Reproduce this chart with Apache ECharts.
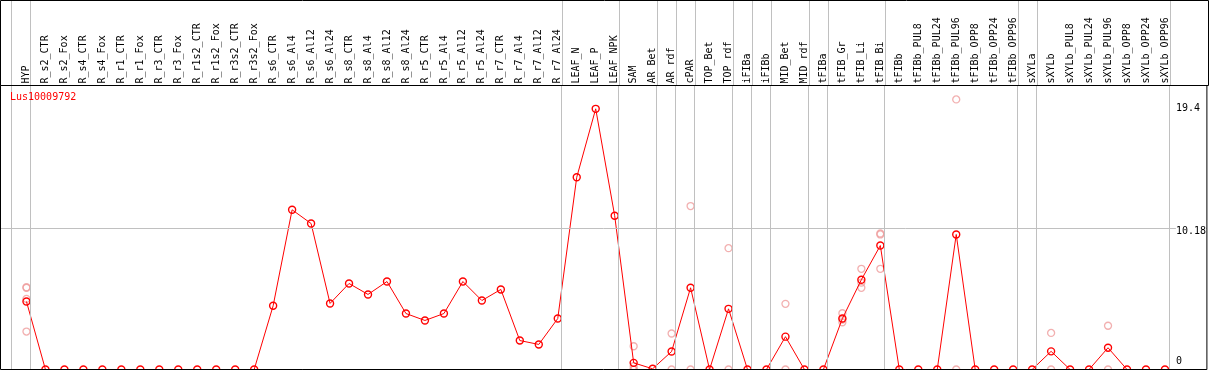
<!DOCTYPE html>
<html><head><meta charset="utf-8">
<script src="https://cdn.jsdelivr.net/npm/echarts@6/dist/echarts.min.js"></script>
<style>html,body{margin:0;padding:0;background:#fff}#c{width:1209px;height:370px}</style>
</head><body><div id="c"></div><script>
const geneName = 'Lus10009792';
const categories = ['HYP','R_s2_CTR','R_s2_Fox','R_s4_CTR','R_s4_Fox','R_r1_CTR','R_r1_Fox','R_r3_CTR','R_r3_Fox',
  'R_r1s2_CTR','R_r1s2_Fox','R_r3s2_CTR','R_r3s2_Fox','R_s6_CTR','R_s6_Al4','R_s6_Al12','R_s6_Al24',
  'R_s8_CTR','R_s8_Al4','R_s8_Al12','R_s8_Al24','R_r5_CTR','R_r5_Al4','R_r5_Al12','R_r5_Al24',
  'R_r7_CTR','R_r7_Al4','R_r7_Al12','R_r7_Al24','LEAF_N','LEAF_P','LEAF_NPK','SAM','AR_Bet','AR_rdf',
  'cPAR','TOP_Bet','TOP_rdf','iFIBa','iFIBb','MID_Bet','MID_rdf','tFIBa','tFIB_Gr','tFIB_Li','tFIB_Bi',
  'tFIBb','tFIBb_PUL8','tFIBb_PUL24','tFIBb_PUL96','tFIBb_OPP8','tFIBb_OPP24','tFIBb_OPP96',
  'sXYLa','sXYLb','sXYLb_PUL8','sXYLb_PUL24','sXYLb_PUL96','sXYLb_OPP8','sXYLb_OPP24','sXYLb_OPP96'];
const means = [4.91, 0,0,0,0,0,0,0,0,0,0,0,0,
  4.60, 11.53, 10.54, 4.77, 6.21, 5.42, 6.35, 4.04, 3.54, 4.04, 6.35, 4.98, 5.78, 2.09, 1.81, 3.68,
  13.88, 18.82, 11.10, 0.48, 0.05, 1.30, 5.90, 0, 4.38, 0, 0, 2.37, 0, 0, 3.68, 6.48, 8.95,
  0, 0, 0, 9.75, 0, 0, 0, 0, 1.31, 0, 0, 1.57, 0, 0, 0];
const replicates = [[5.94, 5.90, 5.10, 2.74], [],[],[],[],[],[],[],[],[],[],[],[],
  [],[],[],[],[],[],[],[],[],[],[],[],[],[],[],[],
  [],[],[], [1.68, 0.24, 0, 0], [], [2.60, 0], [11.80, 0], [], [8.76, 0], [], [], [4.74, 0], [], [],
  [4.06, 3.61, 3.41], [7.27, 6.27, 5.90], [9.82, 9.75, 7.27],
  [],[],[], [19.50, 0], [],[],[], [], [2.64, 0], [], [], [3.16, 0], [],[],[]];
const groupEnds = [-1, 0, 28, 31, 33, 34, 35, 37, 38, 39, 41, 42, 45, 52, 53, 60];
const yTickValues = [0, 10.18, 19.4];
const yGridValues = [10.18];

const FONT = 'DejaVu Sans Mono';
const X_MIN = -26 / 19, X_MAX = 1182 / 19;
const Y_MAX = 20.504;
const SEP_OFFSET = 4 / 19;

const repData = [];
replicates.forEach((arr, i) => arr.forEach(v => repData.push([i, v])));
const sepLines = groupEnds.map(i => ({ xAxis: i + SEP_OFFSET }));
const markLineBase = { silent: true, symbol: 'none', animation: false, label: { show: false },
  lineStyle: { color: '#c0c0c0', width: 1, type: 'solid' } };
const labelShift = { '0': 'z', '10.18': 'm', '19.4': 't' };

const chart = echarts.init(document.getElementById('c'), null, { renderer: 'canvas' });
chart.setOption({
  animation: false,
  backgroundColor: '#fff',
  title: { text: geneName, left: 5, top: 87, textStyle: { color: '#ff0000', fontFamily: FONT, fontSize: 10, fontWeight: 'normal' } },
  grid: [
    { left: 0.5, right: 0.5, top: 85.5, bottom: 0.5, show: true, borderColor: '#000', borderWidth: 1, z: 20, backgroundColor: 'transparent' },
    { left: 0.5, right: 0.5, top: 0.5, height: 85, show: true, borderColor: '#000', borderWidth: 1, z: 20, backgroundColor: 'transparent' }
  ],
  xAxis: [
    { gridIndex: 0, type: 'value', position: 'top', min: X_MIN, max: X_MAX,
      axisLine: { show: false }, axisTick: { show: false }, splitLine: { show: false },
      axisLabel: { customValues: categories.map((_, i) => i), rotate: 90, margin: 2,
        formatter: v => categories[Math.round(v)] || '', fontFamily: FONT, fontSize: 10, color: '#000' } },
    { gridIndex: 1, type: 'value', min: X_MIN, max: X_MAX, show: false }
  ],
  yAxis: [
    { gridIndex: 0, type: 'value', position: 'right', min: 0, max: Y_MAX, z: 10,
      axisLine: { show: false }, axisTick: { show: false }, splitLine: { show: false },
      axisLabel: { inside: true, customValues: yTickValues, align: 'left', margin: 31, verticalAlign: 'middle',
        formatter: v => { const s = String(v); return '{' + (labelShift[s] || 'm') + '|' + s + '}'; },
        rich: {
          t: { fontFamily: FONT, fontSize: 10, color: '#000', backgroundColor: '#fff', padding: [16, 0, 0, 0] },
          m: { fontFamily: FONT, fontSize: 10, color: '#000', backgroundColor: '#fff', padding: [5, 0, 0, 0] },
          z: { fontFamily: FONT, fontSize: 10, color: '#000', padding: [0, 0, 16, 0] }
        } } },
    { gridIndex: 1, type: 'value', min: 0, max: 1, show: false }
  ],
  series: [
    { type: 'scatter', name: 'replicates', xAxisIndex: 0, yAxisIndex: 0, data: repData, clip: false, z: 2,
      symbol: 'circle', symbolSize: 7,
      itemStyle: { color: 'transparent', borderColor: '#ef9c9c', borderWidth: 1.3 },
      markLine: Object.assign({}, markLineBase, { data: sepLines.concat(yGridValues.map(v => ({ yAxis: v }))) }) },
    { type: 'line', name: 'mean', xAxisIndex: 0, yAxisIndex: 0, data: means.map((v, i) => [i, v]), clip: false, z: 3,
      symbol: 'circle', symbolSize: 7,
      lineStyle: { color: '#ff0000', width: 1 },
      itemStyle: { color: 'transparent', borderColor: '#ff0000', borderWidth: 1.4 } },
    { type: 'scatter', name: 'header', xAxisIndex: 1, yAxisIndex: 1, data: [], silent: true,
      markLine: Object.assign({}, markLineBase, { data: sepLines }) }
  ]
});
</script></body></html>
